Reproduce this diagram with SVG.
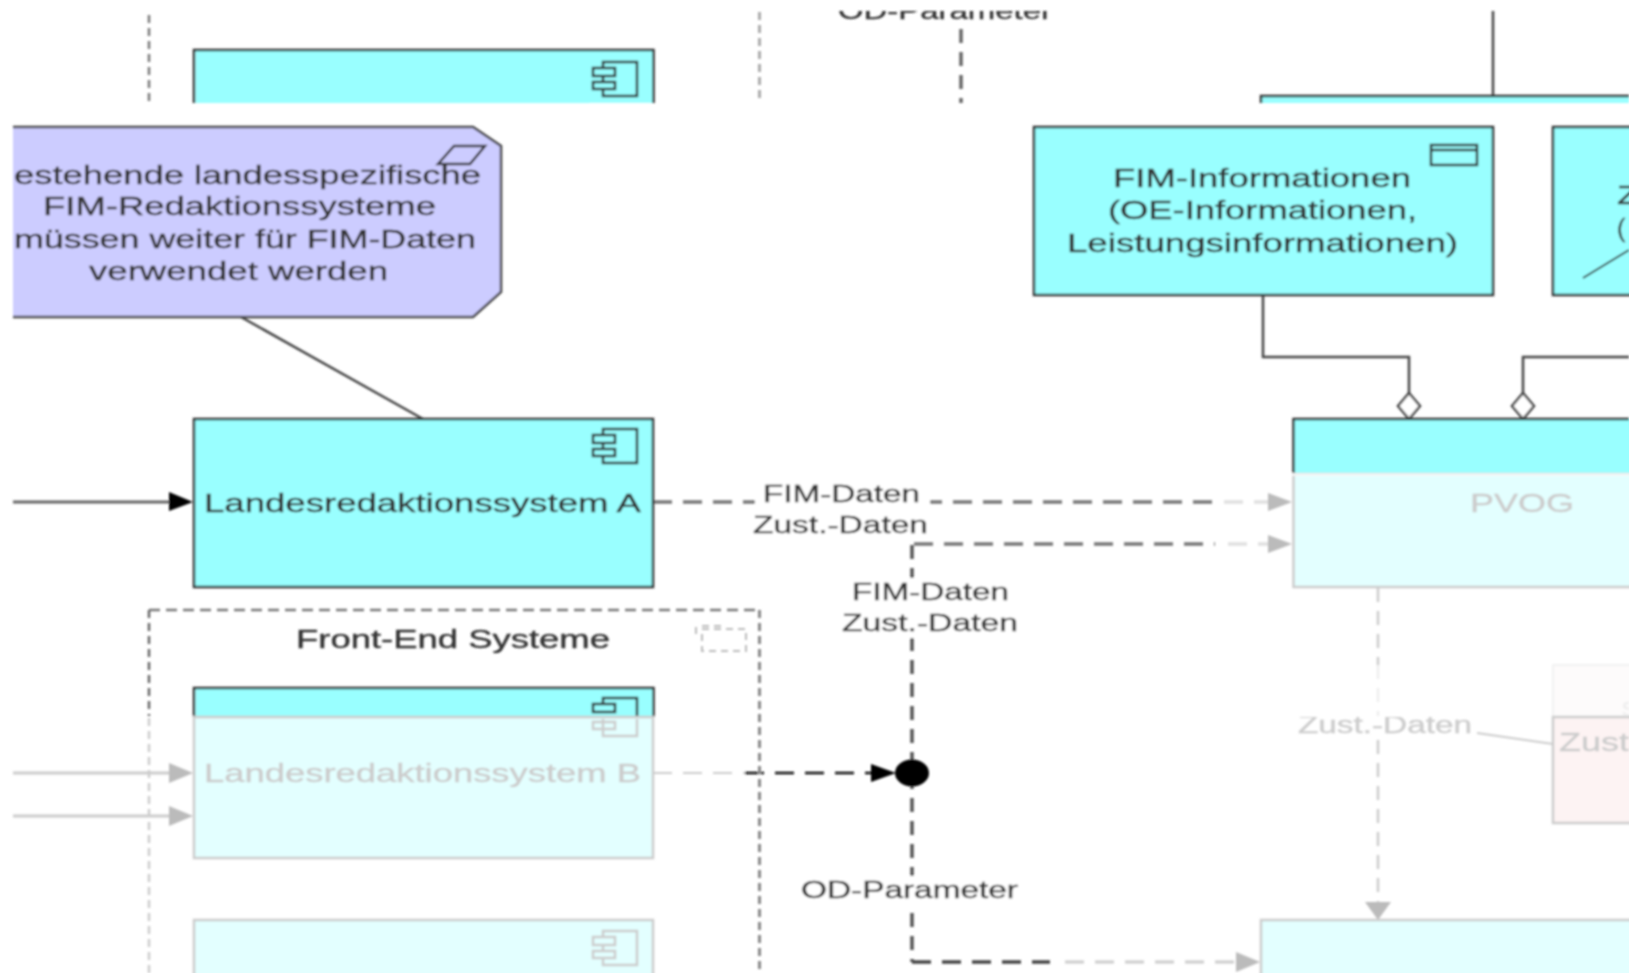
<svg xmlns="http://www.w3.org/2000/svg" width="1629" height="973" viewBox="0 0 1629 973">
<style>
text{font-family:"Liberation Sans",Arial,sans-serif;font-size:25px;fill:#333;stroke:#333;stroke-width:.35;text-anchor:start}
.lbl{font-size:23px}
.box{fill:#99ffff;stroke:#333;stroke-width:2.5}
.pale{fill:#e3ffff;stroke:#ccc;stroke-width:2.5}
.icon{fill:none;stroke:#333;stroke-width:2.5}
.iconp{fill:none;stroke:#ccc;stroke-width:2.5}
.ln{fill:none;stroke:#444;stroke-width:2.5}
.dh{fill:none;stroke-width:3.5;stroke-dasharray:19 11}
.dv{fill:none;stroke-width:3.5;stroke-dasharray:14 9}
.dg{fill:none;stroke-width:2.5;stroke-dasharray:8 5}
text.f{fill:#ccc;stroke:#ccc}
.bg{fill:#fff}
</style>
<defs>
<filter id="soft" x="0" y="0" width="1629" height="973" filterUnits="userSpaceOnUse"><feGaussianBlur stdDeviation="1"/></filter>
<clipPath id="top"><rect x="0" y="11" width="1629" height="92"/></clipPath>
<clipPath id="zust"><rect x="1280" y="717" width="349" height="40"/></clipPath>
<clipPath id="faintS"><rect x="1600" y="680" width="29" height="36"/></clipPath>
<g id="comp"><path d="M11 6V0H45V34H11V26M11 14V20"/><rect x="1" y="6" width="22" height="8"/><rect x="1" y="20" width="22" height="7"/></g>
</defs>
<rect width="1629" height="973" fill="#fff"/>
<g filter="url(#soft)">
<g id="connectors">
<g id="upper-tile">
<path class="dg" stroke="#777" d="M149 15V103"/>
<path class="dg" stroke="#aaa" d="M759.5 12V103" style="stroke-width:3"/>
<path class="dv" stroke="#666" d="M961 29V103"/>
<path class="ln" d="M1493 11V96"/>
<text class="lbl" clip-path="url(#top)" x="838" y="19" textLength="214" lengthAdjust="spacingAndGlyphs">OD-Parameter</text>
</g>
<path class="ln" d="M241 317L423 419"/>
<path class="ln" d="M1263 295V357H1409V393"/>
<path class="ln" d="M1629 357H1523V393"/>
<path d="M1409 393l11 13-11 13-11-13z" fill="#fff" stroke="#444" stroke-width="2.5"/>
<path d="M1523 393l11 13-11 13-11-13z" fill="#fff" stroke="#444" stroke-width="2.5"/>
<path d="M13 502H170" fill="none" stroke="#666" stroke-width="3"/>
<path d="M169 492L193 502L169 511Z" fill="#000"/>
<path d="M13 773H170" fill="none" stroke="#ccc" stroke-width="3"/>
<path d="M169 763L193 773L169 783Z" fill="#bbb"/>
<path d="M13 816H170" fill="none" stroke="#ccc" stroke-width="3"/>
<path d="M169 806L193 816L169 826Z" fill="#bbb"/>
<path class="dh" stroke="#777" d="M653 502H1215"/>
<path class="dh" stroke="#e0e0e0" d="M1224 502H1268"/>
<path d="M1268 493L1292 502L1268 511Z" fill="#bbb"/>
<path class="dh" stroke="#777" d="M914 544H1215"/>
<path class="dh" stroke="#e0e0e0" d="M1228 544H1268"/>
<path d="M1268 535L1292 544L1268 553Z" fill="#bbb"/>
<path class="dv" stroke="#555" d="M912 545V962"/>
<path class="dh" stroke="#444" d="M912 962H1050"/>
<path class="dh" stroke="#ccc" d="M1065 962H1236" style="stroke-width:3"/>
<path d="M1236 952L1260 962L1236 972Z" fill="#bbb"/>
<path class="dh" stroke="#ccc" d="M653 773H745" style="stroke-width:2"/>
<path class="dh" stroke="#111" d="M745 773H872" style="stroke-width:2.5"/>
<path d="M871 764L896 773L871 782Z" fill="#000"/>
<ellipse cx="912" cy="773" rx="17" ry="13.5" fill="#000"/>
<path class="dv" stroke="#ccc" d="M1378 588V665" style="stroke-width:2.5"/>
<path class="dv" stroke="#eee" d="M1378 665V716" style="stroke-width:2.5"/>
<path class="dv" stroke="#ccc" d="M1378 740V902" style="stroke-width:2.5"/>
<path d="M1365 902H1391L1378 920Z" fill="#bbb"/>
<path d="M1477 733L1553 744" fill="none" stroke="#ccc" stroke-width="2"/>
<rect class="bg" x="755" y="483" width="175" height="26"/>
<rect class="bg" x="753" y="510" width="175" height="28"/>
<text class="lbl" x="763" y="502" textLength="157" lengthAdjust="spacingAndGlyphs">FIM-Daten</text>
<text class="lbl" x="753" y="533" textLength="175" lengthAdjust="spacingAndGlyphs">Zust.-Daten</text>
<rect class="bg" x="842" y="578" width="176" height="60"/>
<text class="lbl" x="852" y="600" textLength="157" lengthAdjust="spacingAndGlyphs">FIM-Daten</text>
<text class="lbl" x="842" y="631" textLength="176" lengthAdjust="spacingAndGlyphs">Zust.-Daten</text>
<rect class="bg" x="801" y="876" width="217" height="30"/>
<text class="lbl" x="801" y="898" textLength="217" lengthAdjust="spacingAndGlyphs">OD-Parameter</text>
<text class="lbl f" clip-path="url(#zust)" x="1298" y="733" textLength="174" lengthAdjust="spacingAndGlyphs">Zust.-Daten</text>
</g>

<g id="node-top-component">
<rect x="195.500" y="51" width="457" height="52" fill="#99ffff"/>
<path d="M194 103V50H653.500V103" fill="none" stroke="#333" stroke-width="2.5"/>
<use href="#comp" x="592" y="62" class="icon"/>
<rect x="590" y="103" width="60" height="3" fill="#fff"/>
</g>
<g id="node-top-right">
<rect x="1261" y="96" width="368" height="7" fill="#99ffff"/>
<path d="M1261 103V96H1629" fill="none" stroke="#333" stroke-width="2.5"/>
</g>

<g id="note">
<path d="M13 127H473L501 146V292L473 317H13" fill="#ccccff" stroke="#444" stroke-width="2.5"/>
<path d="M438 164L454 146H485L470 164Z" class="icon"/>
<text x="14" y="184" textLength="467" lengthAdjust="spacingAndGlyphs">estehende landesspezifische</text>
<text x="43" y="215" textLength="393" lengthAdjust="spacingAndGlyphs">FIM-Redaktionssysteme</text>
<text x="14" y="248" textLength="462" lengthAdjust="spacingAndGlyphs">müssen weiter für FIM-Daten</text>
<text x="89" y="280" textLength="299" lengthAdjust="spacingAndGlyphs">verwendet werden</text>
</g>

<g id="node-fim-informationen">
<rect class="box" x="1034" y="127" width="459" height="168"/>
<rect class="icon" x="1431" y="145" width="46" height="20"/>
<path class="icon" d="M1431 150H1477"/>
<text x="1113" y="187" textLength="298" lengthAdjust="spacingAndGlyphs">FIM-Informationen</text>
<text x="1108" y="219" textLength="309" lengthAdjust="spacingAndGlyphs">(OE-Informationen,</text>
<text x="1067" y="252" textLength="391" lengthAdjust="spacingAndGlyphs">Leistungsinformationen)</text>
</g>

<g id="node-right-info">
<rect class="box" x="1553" y="127" width="90" height="168"/>
<text x="1617" y="204" textLength="22" lengthAdjust="spacingAndGlyphs">Z</text>
<text x="1617" y="237">(</text>
<path d="M1583 278L1629 250" fill="none" stroke="#333" stroke-width="2"/>
</g>

<g id="node-landes-a">
<rect class="box" x="194" y="419" width="459" height="168"/>
<use href="#comp" x="592" y="429" class="icon"/>
<text x="204" y="512" textLength="437" lengthAdjust="spacingAndGlyphs">Landesredaktionssystem A</text>
</g>

<g id="node-pvog">
<rect x="1293.500" y="419" width="340" height="55" fill="#99ffff"/>
<path d="M1293.500 474V419H1629" fill="none" stroke="#333" stroke-width="2.5"/>
<rect x="1293.500" y="474" width="340" height="113" class="pale"/>
<rect x="1292" y="473" width="340" height="3" fill="#fff" opacity=".7"/>
<text class="f" x="1470" y="512" textLength="104" lengthAdjust="spacingAndGlyphs">PVOG</text>
</g>

<g id="group-front-end">
<path class="dg" stroke="#777" d="M149 610H759.500" style="stroke-dasharray:11 6"/>
<path class="dg" stroke="#666" d="M149 610V716"/>
<path class="dg" stroke="#ccc" d="M149 718V973"/>
<path class="dg" stroke="#888" d="M759.500 610V973" style="stroke-width:3"/>
<text x="296" y="648" textLength="314" lengthAdjust="spacingAndGlyphs">Front-End Systeme</text>
<g fill="none" stroke="#bbb" stroke-width="2" stroke-dasharray="7 5">
<rect x="702" y="629" width="44" height="22"/>
<path d="M696 627V638M702 626H722"/>
</g>
</g>

<g id="node-landes-b">
<rect x="195.500" y="689" width="457" height="28" fill="#99ffff"/>
<path d="M194 717V688H653.500V717" fill="none" stroke="#333" stroke-width="2.5"/>
<path class="icon" d="M603 704V698H637V717M593 704H615V712H593Z"/>
<rect class="pale" x="194" y="717" width="459" height="141"/>
<path class="iconp" d="M603 719V736H637V719M593 722H615V729H593Z"/>
<text class="f" x="204" y="782" textLength="437" lengthAdjust="spacingAndGlyphs">Landesredaktionssystem B</text>
</g>

<g id="node-landes-c">
<rect class="pale" x="194" y="920" width="459" height="70"/>
<use href="#comp" x="592" y="931" class="iconp"/>
</g>

<g id="node-zust">
<rect x="1553" y="665" width="90" height="52" fill="#fdfbfb" stroke="#f2f2f2" stroke-width="2"/>
<rect x="1553" y="717" width="90" height="106" fill="#fdf3f3" stroke="#ccc" stroke-width="2.500"/>
<text class="f" x="1559" y="751" textLength="70" lengthAdjust="spacingAndGlyphs">Zust</text>
<text clip-path="url(#faintS)" x="1622" y="716" style="fill:#eee;stroke:#eee">s</text>
</g>

<g id="node-bottom-right">
<rect class="pale" x="1261" y="920" width="400" height="70"/>
</g>
</g>
</svg>
